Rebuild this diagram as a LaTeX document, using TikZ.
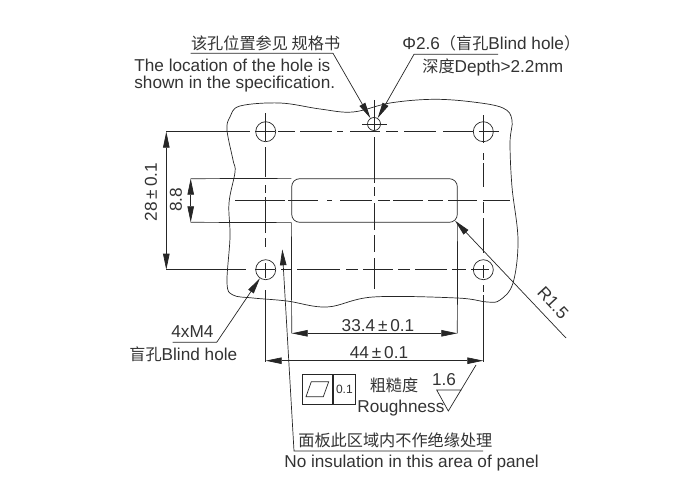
\documentclass[tikz,border=0pt]{standalone}
\usepackage{fontspec}
\setmainfont{Liberation Sans}
\newfontfamily\cjk{Noto Sans CJK SC}[Scale=0.94]
\usetikzlibrary{arrows.meta,positioning}

\begin{document}
\begin{tikzpicture}[x=1pt,y=-1pt,line width=0.7pt,color=black!85,
    >={Triangle[length=16pt,width=6.5pt]},
    hole/.style={circle,draw,inner sep=0pt,minimum size=20pt},
    txt/.style={inner sep=0pt,font=\fontsize{17.2}{20}\selectfont,text=black!80},
    small/.style={inner sep=0pt,font=\fontsize{12}{14}\selectfont,text=black!80}]
    \useasboundingbox (0,0) rectangle (700,500);

    \node[hole] (hole_tl) at (265.7,131.7) {};
    \node[hole] (hole_tr) at (483.3,131.7) {};
    \node[hole] (hole_bl) at (265.7,269.7) {};
    \node[hole] (hole_br) at (483.3,269.7) {};
    \node[hole,minimum size=13pt] (hole_top) at (374,124) {};
    \node[draw,rounded corners=8pt,inner sep=0pt,minimum width=165.6pt,minimum height=43.6pt] (slot) at (374.5,200.5) {};

    % panel outline
    \draw plot[smooth cycle,tension=0.6] coordinates {
        (240,106) (280,103) (320,109) (353,112) (390,103) (433,99.3) (473,102)
        (503,108) (512,120) (510,143) (512,187) (518,240) (513,283) (500,300)
        (487,302) (457,298) (373,297) (327,307) (287,301) (253,298) (233,295)
        (227,283) (230,237) (229,203) (235,172) (233,160) (227,130) (230,117)};

    % center lines
    \coordinate (cl_a1) at (265.7,113);
    \coordinate (cl_a2) at (265.7,362);
    \coordinate (cl_b1) at (374,100);
    \coordinate (cl_b2) at (374,289);
    \coordinate (cl_c1) at (483.3,115);
    \coordinate (cl_c2) at (483.3,362);
    \coordinate (cl_d1) at (255,131.7);
    \coordinate (cl_d2) at (499,131.7);
    \coordinate (cl_e1) at (255,269.7);
    \coordinate (cl_e2) at (489,269.7);
    \coordinate (cl_f1) at (235,200.7);
    \coordinate (cl_f2) at (510,200.7);
    \coordinate (cl_g1) at (362,124);
    \coordinate (cl_g2) at (387,124);
    \coordinate (ext_d) at (250,131.7);
    \coordinate (ext_e) at (246,269.7);
    \draw[dash pattern=on 28pt off 6pt on 30pt off 8pt on 8pt off 4pt on 36pt off 5pt on 9pt off 16pt on 15pt off 12pt on 72pt] (cl_a1) -- (cl_a2);
    \draw[dash pattern=on 30pt off 7pt on 46pt off 4pt on 9pt off 7pt on 27pt off 5pt on 17pt off 6pt on 31pt] (cl_b1) -- (cl_b2);
    \draw[dash pattern=on 28pt off 10pt on 7pt off 3pt on 24pt off 15pt on 11pt off 5pt on 35pt off 12pt on 13pt off 7pt on 7pt off 3pt on 67pt] (cl_c1) -- (cl_c2);
    \draw[dash pattern=on 20pt off 3pt on 17pt off 5pt on 32pt off 5pt on 6pt off 7pt on 30pt off 6pt on 12pt off 6pt on 32pt off 7pt on 30pt off 6pt on 20pt] (cl_d1) -- (cl_d2);
    \draw[dash pattern=on 20pt off 6pt on 10pt off 6pt on 43pt off 6pt on 12pt off 5pt on 30pt off 5pt on 12pt off 5pt on 32pt off 5pt on 14pt off 5pt on 18pt] (cl_e1) -- (cl_e2);
    \draw[dash pattern=on 50pt off 3pt on 30pt off 9pt on 5pt off 8pt on 32pt off 6pt on 12pt off 3pt on 30pt off 5pt on 15pt off 5pt on 29pt off 6pt on 27pt] (cl_f1) -- (cl_f2);
    \draw (cl_g1) -- (cl_g2);

    % dimensions
    \coordinate (d28_a) at (166.3,131.7);
    \coordinate (d28_b) at (166.3,269.7);
    \coordinate (d9_a) at (190.7,178.7);
    \coordinate (d9_b) at (190.7,222.3);
    \coordinate (d33_a) at (291.7,333.3);
    \coordinate (d33_b) at (457.3,333.3);
    \coordinate (d44_a) at (265.7,360.7);
    \coordinate (d44_b) at (483.3,360.7);
    \draw (d28_a) -- (ext_d);
    \draw (d28_b) -- (ext_e);
    \draw (d9_a) -- (slot.north west);
    \draw (d9_b) -- (slot.south west);
    \draw (slot.south west) -- (d33_a);
    \draw (slot.south east) -- (d33_b);
    \draw[<->] (d28_a) -- (d28_b);
    \draw[<->] (d9_a) -- (d9_b);
    \draw[<->] (d33_a) -- (d33_b);
    \draw[<->] (d44_a) -- (d44_b);
    \node[txt,rotate=90] (l_28) at (151,192) {28\,±\,0.1};
    \node[txt,rotate=90] (l_9) at (176,200) {8.8};
    \node[txt] (l_33) at (378,326) {33.4\,±\,0.1};
    \node[txt] (l_44) at (379,353) {44\,±\,0.1};

    % top left note
    \node[txt,anchor=west] (n_pos) at (190.7,43) {{\cjk 该孔位置参见 规格书}};
    \node[txt,anchor=west] (n_loc) at (134,65) {The location of the hole is};
    \node[txt,anchor=west] (n_spec) at (134,84) {shown in the specification.};
    \coordinate (n_pos_a) at (190.7,53.3);
    \coordinate (n_pos_b) at (333,53.3);
    \draw[<-] (hole_top.122) -- (n_pos_b) -- (n_pos_a);

    % top right note
    \node[txt,anchor=west] (n_dia) at (402,43) {Φ2.6{\cjk （盲孔}Blind hole{\cjk ）}};
    \node[txt,anchor=west] (n_depth) at (422,67) {{\cjk 深度}Depth>2.2mm};
    \coordinate (n_dia_a) at (414,54.3);
    \coordinate (n_dia_b) at (498,54.3);
    \draw[<-] (hole_top.58) -- (n_dia_a) -- (n_dia_b);

    % thread note
    \node[txt,anchor=west] (n_m4) at (171,332) {4xM4};
    \node[txt,anchor=west] (n_blind) at (129,354) {{\cjk 盲孔}Blind hole};
    \coordinate (n_m4_a) at (172.7,342.3);
    \coordinate (n_m4_b) at (216.7,342.3);
    \draw[<-] (hole_bl.-124) -- (n_m4_b) -- (n_m4_a);

    % radius
    \coordinate (r_tip) at (455,220.7);
    \coordinate (r_end) at (566,338);
    \draw[<-] (r_tip) -- (r_end);
    \node[txt,rotate=-47] (l_r) at (553,303) {R1.5};

    % insulation note
    \coordinate (n_ins_tip) at (282.3,249.3);
    \coordinate (n_ins_a) at (294,451);
    \coordinate (n_ins_b) at (483,451);
    \draw[<-] (n_ins_tip) -- (n_ins_a) -- (n_ins_b);
    \node[txt,anchor=west] (n_area) at (298,440) {{\cjk 面板此区域内不作绝缘处理}};
    \node[txt,anchor=west] (n_ins) at (284,462.7) {No insulation in this area of panel};

    % roughness
    \node[draw,inner sep=0pt,minimum width=29.6pt,minimum height=30pt] (box_a) at (317.5,389.3) {};
    \node[draw,inner sep=0pt,minimum width=22.7pt,minimum height=30pt,right=0pt of box_a,small] (box_b) {0.1};
    \draw (306,396.7) -- (323.3,396.7) -- (328.7,381.7) -- (311.3,381.7) -- cycle;
    \node[txt] (n_rough) at (394,385) {{\cjk 粗糙度}};
    \node[txt,anchor=west] (n_roughness) at (357,408) {Roughness};
    \node[txt] (l_16) at (444,380) {1.6};
    \coordinate (tri_a) at (436.7,390);
    \coordinate (tri_b) at (461.7,390);
    \coordinate (tri_c) at (448.3,411);
    \coordinate (tri_d) at (476,365);
    \draw (tri_b) -- (tri_a) -- (tri_c) -- (tri_d);
\end{tikzpicture}
\end{document}
